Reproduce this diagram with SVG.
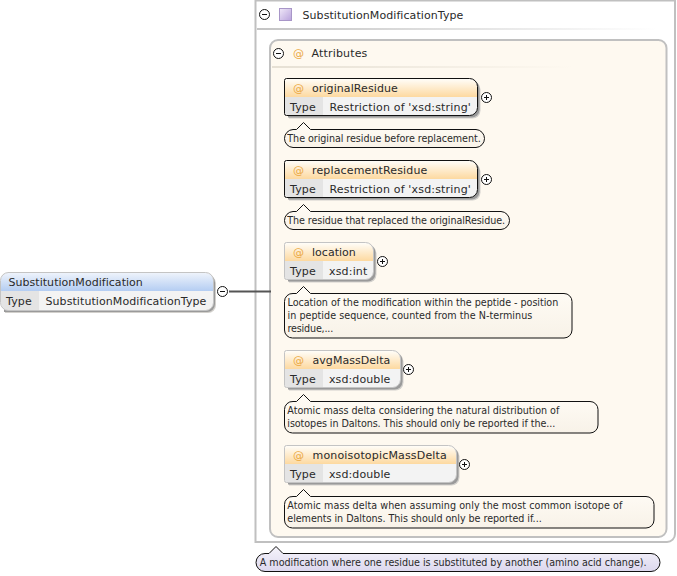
<svg xmlns="http://www.w3.org/2000/svg" width="677" height="576" viewBox="0 0 677 576">
<style>
text{font-family:"DejaVu Sans",sans-serif;fill:#2a2a2a}
.t{font-size:11px;letter-spacing:.17px}
.a{font-size:9.6px}
.at{font-size:11px;fill:#eba83f}
.note{fill:url(#nt);stroke:#111;stroke-width:1}
.cell{fill:#e4e4e4}
.val{fill:#f3f3f3}
.s1{fill:#d2d0cc}
.s2{fill:#9a9a9a}
.dark{fill:none;stroke:#111}
.light{fill:none;stroke:#c4c4c4}
.tog{fill:#fff;stroke:#111;stroke-width:1}
.tl{stroke:#111;stroke-width:1;fill:none}
</style>
<defs>
<linearGradient id="or" x1="0" y1="0" x2="0" y2="1"><stop offset="0" stop-color="#fffdf8"/><stop offset="1" stop-color="#fdd9a0"/></linearGradient>
<linearGradient id="bl" x1="0" y1="0" x2="0" y2="1"><stop offset="0" stop-color="#eef3fb"/><stop offset="1" stop-color="#b4cdf2"/></linearGradient>
<linearGradient id="fade" x1="0" y1="0" x2="1" y2="0"><stop offset="0" stop-color="#c4c4c4"/><stop offset="1" stop-color="#c4c4c4" stop-opacity="0"/></linearGradient>
<linearGradient id="fade2" x1="0" y1="0" x2="1" y2="0"><stop offset="0" stop-color="#e6e0d4"/><stop offset="1" stop-color="#e6e0d4" stop-opacity="0"/></linearGradient>
<linearGradient id="sq" x1="0" y1="0" x2="1" y2="1"><stop offset="0" stop-color="#f0e8f8"/><stop offset="1" stop-color="#b8a2dc"/></linearGradient>
<linearGradient id="lav" x1="0" y1="0" x2="0" y2="1"><stop offset="0" stop-color="#f6f4fb"/><stop offset="1" stop-color="#dcd8ee"/></linearGradient>
<linearGradient id="nt" x1="0" y1="0" x2="0" y2="1"><stop offset="0" stop-color="#fffcf6"/><stop offset="1" stop-color="#f8f2e8"/></linearGradient>
</defs>

<g id="type-box">
<path d="M255.500 0.500H675V534a8 8 0 0 1-8 8H255.500Z" fill="#fff" stroke="#c0c0c0" stroke-width="2"/>
<rect x="257" y="28" width="400" height="2" fill="url(#fade)"/>
<circle class="tog" cx="264.500" cy="14.500" r="5"/><path class="tl" d="M262 14.500h5"/>
<rect x="279.500" y="8.500" width="12" height="12" fill="url(#sq)" stroke="#a896c8"/>
<text class="t" x="302.500" y="18.500" textLength="161">SubstitutionModificationType</text>
</g>

<g id="attributes">
<rect x="270" y="40" width="396.500" height="497" rx="8" fill="#fef9f0" stroke="#c0c0c0" stroke-width="2"/>
<rect x="272" y="66" width="300" height="2" fill="url(#fade2)"/>
<circle class="tog" cx="278.500" cy="53.500" r="5"/><path class="tl" d="M276 53.500h5"/>
<text class="at" x="293" y="57">@</text>
<text class="t" x="311.500" y="57">Attributes</text>
</g>

<g id="connectors">
<line x1="229" y1="291.500" x2="271" y2="291.500" stroke="#555" stroke-width="2"/>
</g>

<g id="originalResidue">
<path class="s1" d="M289 81.500H472.500a8 8 0 0 1 8 8V110.500a8 8 0 0 1-8 8H289Z"/>
<path class="s2" d="M288 80.500H471.500a8 8 0 0 1 8 8V109.500a8 8 0 0 1-8 8H288Z"/>
<path class="val" d="M286.500 78.500H469.500a8 8 0 0 1 8 8V107.500a8 8 0 0 1-8 8H286.500a2 2 0 0 1-2-2V80.500a2 2 0 0 1 2-2Z"/>
<path fill="url(#or)" d="M285 97V80.500a1.500 1.500 0 0 1 1.500-1.500H469.500a7.500 7.500 0 0 1 7.500 7.500V97Z"/>
<rect class="cell" x="285" y="97" width="38" height="18"/>
<path class="dark" d="M286.500 78.500H469.500a8 8 0 0 1 8 8V107.500a8 8 0 0 1-8 8H286.500a2 2 0 0 1-2-2V80.500a2 2 0 0 1 2-2Z"/>
<text class="at" x="293" y="92">@</text><text class="t" x="312" y="92" textLength="86">originalResidue</text>
<text class="t" x="290" y="111">Type</text><text class="t" x="329.500" y="111" textLength="141.500">Restriction of 'xsd:string'</text>
<circle class="tog" cx="486.500" cy="97.500" r="5"/><path class="tl" d="M484 97.500h5M486.500 95v5"/>
<path class="note" d="M293 129.500H296.500L303.500 122.500L310.500 129.500H476a9 9 0 0 1 8.500 9a9 9 0 0 1-8.500 9H293a9 9 0 0 1-8.500-9a9 9 0 0 1 8.500-9Z"/>
<text class="a" x="287.300" y="142" textLength="193.400">The original residue before replacement.</text>
</g>

<g id="replacementResidue">
<path class="s1" d="M289 163.500H472.500a8 8 0 0 1 8 8V192.500a8 8 0 0 1-8 8H289Z"/>
<path class="s2" d="M288 162.500H471.500a8 8 0 0 1 8 8V191.500a8 8 0 0 1-8 8H288Z"/>
<path class="val" d="M286.500 160.500H469.500a8 8 0 0 1 8 8V189.500a8 8 0 0 1-8 8H286.500a2 2 0 0 1-2-2V162.500a2 2 0 0 1 2-2Z"/>
<path fill="url(#or)" d="M285 179V162.500a1.500 1.500 0 0 1 1.500-1.500H469.500a7.500 7.500 0 0 1 7.500 7.500V179Z"/>
<rect class="cell" x="285" y="179" width="38" height="18"/>
<path class="dark" d="M286.500 160.500H469.500a8 8 0 0 1 8 8V189.500a8 8 0 0 1-8 8H286.500a2 2 0 0 1-2-2V162.500a2 2 0 0 1 2-2Z"/>
<text class="at" x="293" y="174">@</text><text class="t" x="312" y="174" textLength="115.500">replacementResidue</text>
<text class="t" x="290" y="193">Type</text><text class="t" x="329.500" y="193" textLength="141.500">Restriction of 'xsd:string'</text>
<circle class="tog" cx="486.500" cy="179.500" r="5"/><path class="tl" d="M484 179.500h5M486.500 177v5"/>
<path class="note" d="M293 211.500H296.500L303.500 204.500L310.500 211.500H501a9 9 0 0 1 8.500 9a9 9 0 0 1-8.500 9H293a9 9 0 0 1-8.500-9a9 9 0 0 1 8.500-9Z"/>
<text class="a" x="287.300" y="224" textLength="217.700">The residue that replaced the originalResidue.</text>
</g>

<g id="location">
<path class="s1" d="M289 245.500H368.500a8 8 0 0 1 8 8V274.500a8 8 0 0 1-8 8H289Z"/>
<path class="s2" d="M288 244.500H367.500a8 8 0 0 1 8 8V273.500a8 8 0 0 1-8 8H288Z"/>
<path class="val" d="M286.500 242.500H365.500a8 8 0 0 1 8 8V271.500a8 8 0 0 1-8 8H286.500a2 2 0 0 1-2-2V244.500a2 2 0 0 1 2-2Z"/>
<path fill="url(#or)" d="M285 261V244.500a1.500 1.500 0 0 1 1.500-1.500H365.500a7.500 7.500 0 0 1 7.500 7.500V261Z"/>
<rect class="cell" x="285" y="261" width="38" height="18"/>
<path class="light" d="M286.500 242.500H365.500a8 8 0 0 1 8 8V271.500a8 8 0 0 1-8 8H286.500a2 2 0 0 1-2-2V244.500a2 2 0 0 1 2-2Z"/>
<text class="at" x="293" y="256">@</text><text class="t" x="312" y="256" textLength="44">location</text>
<text class="t" x="290" y="275">Type</text><text class="t" x="329" y="275" textLength="38.500">xsd:int</text>
<circle class="tog" cx="382.500" cy="261.500" r="5"/><path class="tl" d="M380 261.500h5M382.500 259v5"/>
<path class="note" d="M293 293.500H296.500L303.500 286.500L310.500 293.500H564a8 8 0 0 1 8 8V330a8 8 0 0 1-8 8H292.500a8 8 0 0 1-8-8V301.500a8 8 0 0 1 8.500-8Z"/>
<text class="a" x="287.500" y="306" textLength="270.800">Location of the modification within the peptide - position</text>
<text class="a" x="287.500" y="319" textLength="244.800">in peptide sequence, counted from the N-terminus</text>
<text class="a" x="287.500" y="332" textLength="45.800">residue,...</text>
</g>

<g id="avgMassDelta">
<path class="s1" d="M289 353.500H395.500a8 8 0 0 1 8 8V382.500a8 8 0 0 1-8 8H289Z"/>
<path class="s2" d="M288 352.500H394.500a8 8 0 0 1 8 8V381.500a8 8 0 0 1-8 8H288Z"/>
<path class="val" d="M286.500 350.500H392.500a8 8 0 0 1 8 8V379.500a8 8 0 0 1-8 8H286.500a2 2 0 0 1-2-2V352.500a2 2 0 0 1 2-2Z"/>
<path fill="url(#or)" d="M285 369V352.500a1.500 1.500 0 0 1 1.500-1.500H392.500a7.500 7.500 0 0 1 7.500 7.500V369Z"/>
<rect class="cell" x="285" y="369" width="38" height="18"/>
<path class="light" d="M286.500 350.500H392.500a8 8 0 0 1 8 8V379.500a8 8 0 0 1-8 8H286.500a2 2 0 0 1-2-2V352.500a2 2 0 0 1 2-2Z"/>
<text class="at" x="293" y="364">@</text><text class="t" x="312.500" y="364" textLength="78">avgMassDelta</text>
<text class="t" x="290" y="383">Type</text><text class="t" x="329" y="383" textLength="61.500">xsd:double</text>
<circle class="tog" cx="408.500" cy="369.500" r="5"/><path class="tl" d="M406 369.500h5M408.500 367v5"/>
<path class="note" d="M293 401.500H296.500L303.500 394.500L310.500 401.500H590a8 8 0 0 1 8 8V425a8 8 0 0 1-8 8H292.500a8 8 0 0 1-8-8V409.500a8 8 0 0 1 8.500-8Z"/>
<text class="a" x="287.300" y="414" textLength="272">Atomic mass delta considering the natural distribution of</text>
<text class="a" x="287.300" y="427" textLength="268">isotopes in Daltons. This should only be reported if the...</text>
</g>

<g id="monoisotopicMassDelta">
<path class="s1" d="M289 448.500H451.500a8 8 0 0 1 8 8V477.500a8 8 0 0 1-8 8H289Z"/>
<path class="s2" d="M288 447.500H450.500a8 8 0 0 1 8 8V476.500a8 8 0 0 1-8 8H288Z"/>
<path class="val" d="M286.500 445.500H448.500a8 8 0 0 1 8 8V474.500a8 8 0 0 1-8 8H286.500a2 2 0 0 1-2-2V447.500a2 2 0 0 1 2-2Z"/>
<path fill="url(#or)" d="M285 464V447.500a1.500 1.500 0 0 1 1.500-1.500H448.500a7.500 7.500 0 0 1 7.500 7.500V464Z"/>
<rect class="cell" x="285" y="464" width="38" height="18"/>
<path class="light" d="M286.500 445.500H448.500a8 8 0 0 1 8 8V474.500a8 8 0 0 1-8 8H286.500a2 2 0 0 1-2-2V447.500a2 2 0 0 1 2-2Z"/>
<text class="at" x="293" y="459">@</text><text class="t" x="312.500" y="459" textLength="134.500">monoisotopicMassDelta</text>
<text class="t" x="290" y="478">Type</text><text class="t" x="329" y="478" textLength="61.500">xsd:double</text>
<circle class="tog" cx="464.500" cy="464.500" r="5"/><path class="tl" d="M462 464.500h5M464.500 462v5"/>
<path class="note" d="M293 496.500H296.500L303.500 489.500L310.500 496.500H646a8 8 0 0 1 8 8V520a8 8 0 0 1-8 8H292.500a8 8 0 0 1-8-8V504.500a8 8 0 0 1 8.500-8Z"/>
<text class="a" x="287.300" y="509" textLength="335">Atomic mass delta when assuming only the most common isotope of</text>
<text class="a" x="287.300" y="522" textLength="254.400">elements in Daltons. This should only be reported if...</text>
</g>

<g id="SubstitutionModification">
<path class="s1" d="M5 275.500H208a8 8 0 0 1 8 8V305a8 8 0 0 1-8 8H5Z"/>
<path class="s2" d="M4 274.500H207a8 8 0 0 1 8 8V304a8 8 0 0 1-8 8H4Z"/>
<path class="val" d="M8 272.500H205.500a8 8 0 0 1 8 8V302.500a8 8 0 0 1-8 8H8.500a8 8 0 0 1-8-8V280.500a8 8 0 0 1 8-8Z"/>
<path fill="url(#bl)" d="M1 291V280.500a7.500 7.500 0 0 1 7.500-7.500H205.500a7.500 7.500 0 0 1 7.500 7.500V291Z"/>
<path class="cell" d="M1 291H39V310H8.500a7.500 7.500 0 0 1-7.500-7.500Z"/>
<path class="light" d="M8 272.500H205.500a8 8 0 0 1 8 8V302.500a8 8 0 0 1-8 8H8.500a8 8 0 0 1-8-8V280.500a8 8 0 0 1 8-8Z"/>
<text class="t" x="8.500" y="286" textLength="134.500">SubstitutionModification</text>
<text class="t" x="6" y="305">Type</text><text class="t" x="45.500" y="305" textLength="161">SubstitutionModificationType</text>
<circle class="tog" cx="222.500" cy="291.500" r="5"/><path class="tl" d="M220 291.500h5"/>
</g>

<g id="type-note">
<path d="M265 553.500H269L276 546.500L283 553.500H651a9 9 0 0 1 9 9a9 9 0 0 1-9 9H265a9 9 0 0 1-9-9a9 9 0 0 1 9-9Z" fill="url(#lav)" stroke="#111"/>
<text class="a" x="259.800" y="566" textLength="386.800">A modification where one residue is substituted by another (amino acid change).</text>
</g>
</svg>
